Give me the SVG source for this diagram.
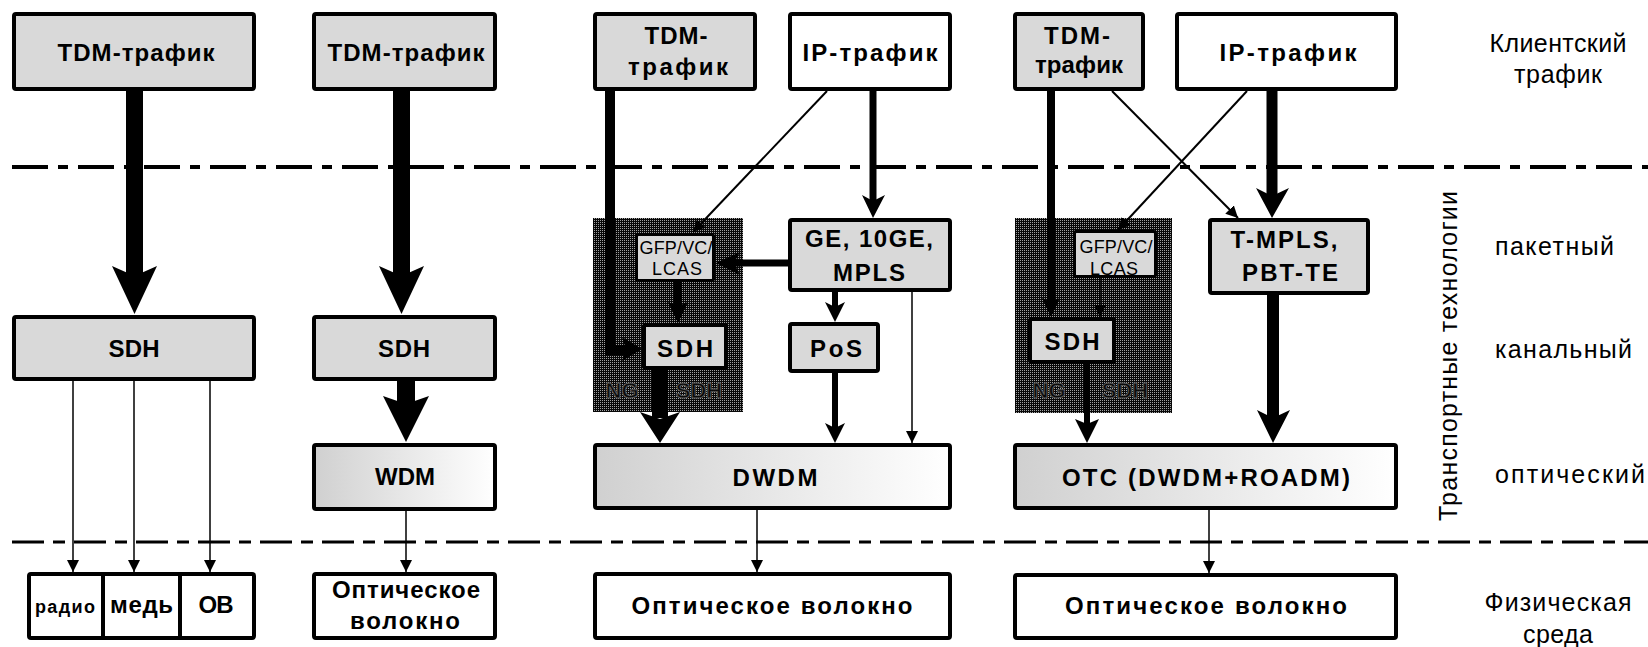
<svg xmlns="http://www.w3.org/2000/svg" width="1648" height="647" viewBox="0 0 1648 647">
<defs>
<linearGradient id="lg" x1="0" y1="0" x2="1" y2="0">
<stop offset="0" stop-color="#d0d0d0"/>
<stop offset="1" stop-color="#ffffff"/>
</linearGradient>
<pattern id="dots" width="2" height="2" patternUnits="userSpaceOnUse">
<rect width="2" height="2" fill="#080808"/>
<rect width="1" height="1" fill="#a0a0a0"/>
</pattern>
<marker id="ah" viewBox="0 0 10 10" refX="10" refY="5" markerWidth="12" markerHeight="12" markerUnits="userSpaceOnUse" orient="auto">
<path d="M0,0 L10,5 L0,10 z" fill="#000"/>
</marker>
</defs>
<style>
.box{stroke:#000;stroke-width:4}
.g{fill:#d9d9d9}
.w{fill:#fff}
.gr{fill:url(#lg)}
.ng{fill:url(#dots)}
.sm{stroke:#000;stroke-width:3}
.t{font-family:"Liberation Sans",Arial,sans-serif;font-weight:bold;font-size:24px;text-anchor:middle;fill:#000}
.s{font-family:"Liberation Sans",Arial,sans-serif;font-size:18px;text-anchor:middle;fill:#000}
.ngt{font-family:"Liberation Sans",Arial,sans-serif;font-weight:bold;font-size:22px;text-anchor:middle;fill:#0a0a0a;stroke:#5a5a5a;stroke-width:1}
.r{font-family:"Liberation Sans",Arial,sans-serif;font-size:25px;fill:#000}
.thin{stroke:#000;stroke-width:1.5;fill:none;marker-end:url(#ah)}
.diag{stroke:#000;stroke-width:2;fill:none;marker-end:url(#ah)}
.sh{stroke:#000;fill:none}
.hd{fill:#000}
.dash1{stroke:#000;stroke-width:4;stroke-dasharray:36 10 10 10;fill:none}
.dash2{stroke:#000;stroke-width:3;stroke-dasharray:32 9 12 9;fill:none}
</style>

<g id="layers">
<line class="dash1" x1="12" y1="167" x2="1648" y2="167"/>
<line class="dash2" x1="12" y1="542" x2="1648" y2="542"/>
</g>

<g id="ngsdh3">
<rect class="ng" x="593" y="218" width="150" height="194"/>
<text class="ngt" x="622" y="398">NG</text>
<text class="ngt" x="699" y="398">SDH</text>
</g>
<g id="ngsdh4">
<rect class="ng" x="1015" y="218" width="157" height="195"/>
<text class="ngt" x="1049" y="398">NG</text>
<text class="ngt" x="1125" y="398">SDH</text>
</g>

<g id="connectors">
<line class="sh" x1="134.5" y1="91" x2="134.5" y2="276" stroke-width="17"/>
<polygon class="hd" points="112,266 134.5,276 157,266 134.5,314"/>
<line class="thin" x1="73" y1="381" x2="73" y2="572"/>
<line class="thin" x1="134" y1="381" x2="134" y2="572"/>
<line class="thin" x1="210" y1="381" x2="210" y2="572"/>
<line class="sh" x1="401.5" y1="91" x2="401.5" y2="276" stroke-width="17"/>
<polygon class="hd" points="379,266 401.5,276 424,266 401.5,314"/>
<line class="sh" x1="406" y1="381" x2="406" y2="404" stroke-width="18"/>
<polygon class="hd" points="383,396 406,404 429,396 406,442"/>
<line class="thin" x1="406" y1="511" x2="406" y2="572"/>
<path class="sh" d="M610,91 V350 H628" stroke-width="10" stroke-linejoin="miter"/>
<polygon class="hd" points="622,337 642,349 622,361 626,349"/>
<line class="diag" x1="827" y1="91" x2="693" y2="232"/>
<line class="sh" x1="873" y1="91" x2="873" y2="202" stroke-width="7"/>
<polygon class="hd" points="862,195 873,201 885,195 873,218"/>
<line class="sh" x1="788" y1="263" x2="733" y2="263" stroke-width="7"/>
<polygon class="hd" points="740,252 734,263 740,275 716,263"/>
<line class="sh" x1="678" y1="282" x2="678" y2="306" stroke-width="8"/>
<polygon class="hd" points="668,302 678,306 688,302 678,323"/>
<line class="sh" x1="660" y1="370" x2="660" y2="418" stroke-width="16"/>
<polygon class="hd" points="640,412 660,419 680,412 660,443"/>
<line class="sh" x1="835" y1="292" x2="835" y2="307" stroke-width="6"/>
<polygon class="hd" points="825,302 835,307 845,302 835,322"/>
<line class="sh" x1="835" y1="373" x2="835" y2="428" stroke-width="6"/>
<polygon class="hd" points="825,423 835,428 845,423 835,443"/>
<line class="thin" x1="912" y1="292" x2="912" y2="443"/>
<line class="thin" x1="757" y1="510" x2="757" y2="572"/>
<line class="sh" x1="1051" y1="91" x2="1051" y2="302" stroke-width="8"/>
<polygon class="hd" points="1042,298 1051,302 1060,298 1051,317"/>
<line class="diag" x1="1112" y1="91" x2="1238" y2="218"/>
<line class="diag" x1="1247" y1="91" x2="1118" y2="230"/>
<line class="sh" x1="1272" y1="91" x2="1272" y2="196" stroke-width="11"/>
<polygon class="hd" points="1256,188 1272,196 1289,188 1272,218"/>
<line class="thin" x1="1100" y1="278" x2="1100" y2="317"/>
<line class="sh" x1="1087" y1="364" x2="1087" y2="424" stroke-width="6"/>
<polygon class="hd" points="1075,419 1087,424 1099,419 1087,443"/>
<line class="sh" x1="1273" y1="295" x2="1273" y2="418" stroke-width="12"/>
<polygon class="hd" points="1257,410 1273,418 1290,410 1273,443"/>
<line class="thin" x1="1209" y1="510" x2="1209" y2="573"/>
</g>

<g id="tdm1">
<rect class="box g" x="14" y="14" width="240" height="75" rx="2"/>
<text class="t" x="136" y="61" textLength="157" lengthAdjust="spacing">TDM-трафик</text>
</g>
<g id="sdh1">
<rect class="box g" x="14" y="317" width="240" height="62" rx="2"/>
<text class="t" x="134" y="357" textLength="51" lengthAdjust="spacing">SDH</text>
</g>
<g id="media1">
<rect class="box w" x="29" y="574" width="225" height="64" rx="2"/>
<line class="box" x1="103" y1="574" x2="103" y2="638"/>
<line class="box" x1="180" y1="574" x2="180" y2="638"/>
<text class="t" x="65" y="613" style="font-size:18px" textLength="60" lengthAdjust="spacing">радио</text>
<text class="t" x="141.5" y="613" textLength="63" lengthAdjust="spacing">медь</text>
<text class="t" x="216" y="613" textLength="35" lengthAdjust="spacing">ОВ</text>
</g>

<g id="tdm2">
<rect class="box g" x="314" y="14" width="181" height="75" rx="2"/>
<text class="t" x="406" y="61" textLength="157" lengthAdjust="spacing">TDM-трафик</text>
</g>
<g id="sdh2">
<rect class="box g" x="314" y="317" width="181" height="62" rx="2"/>
<text class="t" x="404" y="357" textLength="52" lengthAdjust="spacing">SDH</text>
</g>
<g id="wdm">
<rect class="box gr" x="314" y="445" width="181" height="64" rx="2"/>
<text class="t" x="405" y="485" textLength="60" lengthAdjust="spacing">WDM</text>
</g>
<g id="fiber2">
<rect class="box w" x="314" y="574" width="181" height="64" rx="2"/>
<text class="t" x="406" y="598" textLength="148" lengthAdjust="spacing">Оптическое</text>
<text class="t" x="405" y="629" textLength="110" lengthAdjust="spacing">волокно</text>
</g>

<g id="tdm3">
<rect class="box g" x="595" y="14" width="160" height="75" rx="2"/>
<text class="t" x="676" y="44" textLength="63" lengthAdjust="spacing">TDM-</text>
<text class="t" x="678" y="75" textLength="100" lengthAdjust="spacing">трафик</text>
</g>
<g id="ip3">
<rect class="box w" x="790" y="14" width="160" height="75" rx="2"/>
<text class="t" x="870" y="61" textLength="135" lengthAdjust="spacing">IP-трафик</text>
</g>
<g id="gfp3">
<rect class="sm g" x="636.5" y="234.5" width="77" height="46" rx="2"/>
<text class="s" x="676" y="254" textLength="73" lengthAdjust="spacing">GFP/VC/</text>
<text class="s" x="677" y="275" textLength="50" lengthAdjust="spacing">LCAS</text>
</g>
<g id="sdh3">
<rect class="box g" x="644" y="325" width="82" height="43" rx="2"/>
<text class="t" x="685" y="357" textLength="56" lengthAdjust="spacing">SDH</text>
</g>
<g id="ge">
<rect class="box g" x="790" y="220" width="160" height="70" rx="2"/>
<text class="t" x="869" y="247" textLength="128" lengthAdjust="spacing">GE, 10GE,</text>
<text class="t" x="869" y="281" textLength="72" lengthAdjust="spacing">MPLS</text>
</g>
<g id="pos">
<rect class="box g" x="790" y="324" width="88" height="47" rx="2"/>
<text class="t" x="836" y="357" textLength="52" lengthAdjust="spacing">PoS</text>
</g>
<g id="dwdm">
<rect class="box gr" x="595" y="445" width="355" height="63" rx="2"/>
<text class="t" x="775" y="486" textLength="85" lengthAdjust="spacing">DWDM</text>
</g>
<g id="fiber3">
<rect class="box w" x="595" y="574" width="355" height="64" rx="2"/>
<text class="t" x="772" y="614" textLength="281" lengthAdjust="spacing">Оптическое волокно</text>
</g>

<g id="tdm4">
<rect class="box g" x="1015" y="14" width="128" height="75" rx="2"/>
<text class="t" x="1077" y="44" textLength="66" lengthAdjust="spacing">TDM-</text>
<text class="t" x="1079" y="73" textLength="88" lengthAdjust="spacing">трафик</text>
</g>
<g id="ip4">
<rect class="box w" x="1177" y="14" width="219" height="75" rx="2"/>
<text class="t" x="1288" y="61" textLength="137" lengthAdjust="spacing">IP-трафик</text>
</g>
<g id="gfp4">
<rect class="sm g" x="1074.5" y="231.5" width="81" height="45" rx="2"/>
<text class="s" x="1116" y="253" textLength="73" lengthAdjust="spacing">GFP/VC/</text>
<text class="s" x="1114" y="275" textLength="48" lengthAdjust="spacing">LCAS</text>
</g>
<g id="sdh4">
<rect class="box g" x="1030" y="319" width="84" height="43" rx="2"/>
<text class="t" x="1072" y="350" textLength="55" lengthAdjust="spacing">SDH</text>
</g>
<g id="tmpls">
<rect class="box g" x="1210" y="220" width="158" height="73" rx="2"/>
<text class="t" x="1284" y="248" textLength="107" lengthAdjust="spacing">T-MPLS,</text>
<text class="t" x="1290" y="281" textLength="96" lengthAdjust="spacing">PBT-TE</text>
</g>
<g id="otc">
<rect class="box gr" x="1015" y="445" width="381" height="63" rx="2"/>
<text class="t" x="1206" y="486" textLength="288" lengthAdjust="spacing">OTC (DWDM+ROADM)</text>
</g>
<g id="fiber4">
<rect class="box w" x="1015" y="575" width="381" height="63" rx="2"/>
<text class="t" x="1206" y="614" textLength="282" lengthAdjust="spacing">Оптическое волокно</text>
</g>

<g id="labels">
<text class="r" x="1558" y="52" text-anchor="middle" textLength="137" lengthAdjust="spacing">Клиентский</text>
<text class="r" x="1558" y="83" text-anchor="middle" textLength="88" lengthAdjust="spacing">трафик</text>
<text class="r" x="1495" y="255" textLength="119" lengthAdjust="spacing">пакетный</text>
<text class="r" x="1495" y="358" textLength="137" lengthAdjust="spacing">канальный</text>
<text class="r" x="1495" y="483" textLength="150" lengthAdjust="spacing">оптический</text>
<text class="r" x="1558" y="611" text-anchor="middle" textLength="147" lengthAdjust="spacing">Физическая</text>
<text class="r" x="1558" y="643" text-anchor="middle" textLength="70" lengthAdjust="spacing">среда</text>
<text class="r" transform="translate(1457,356) rotate(-90)" x="0" y="0" text-anchor="middle" textLength="330" lengthAdjust="spacing">Транспортные технологии</text>
</g>
</svg>
